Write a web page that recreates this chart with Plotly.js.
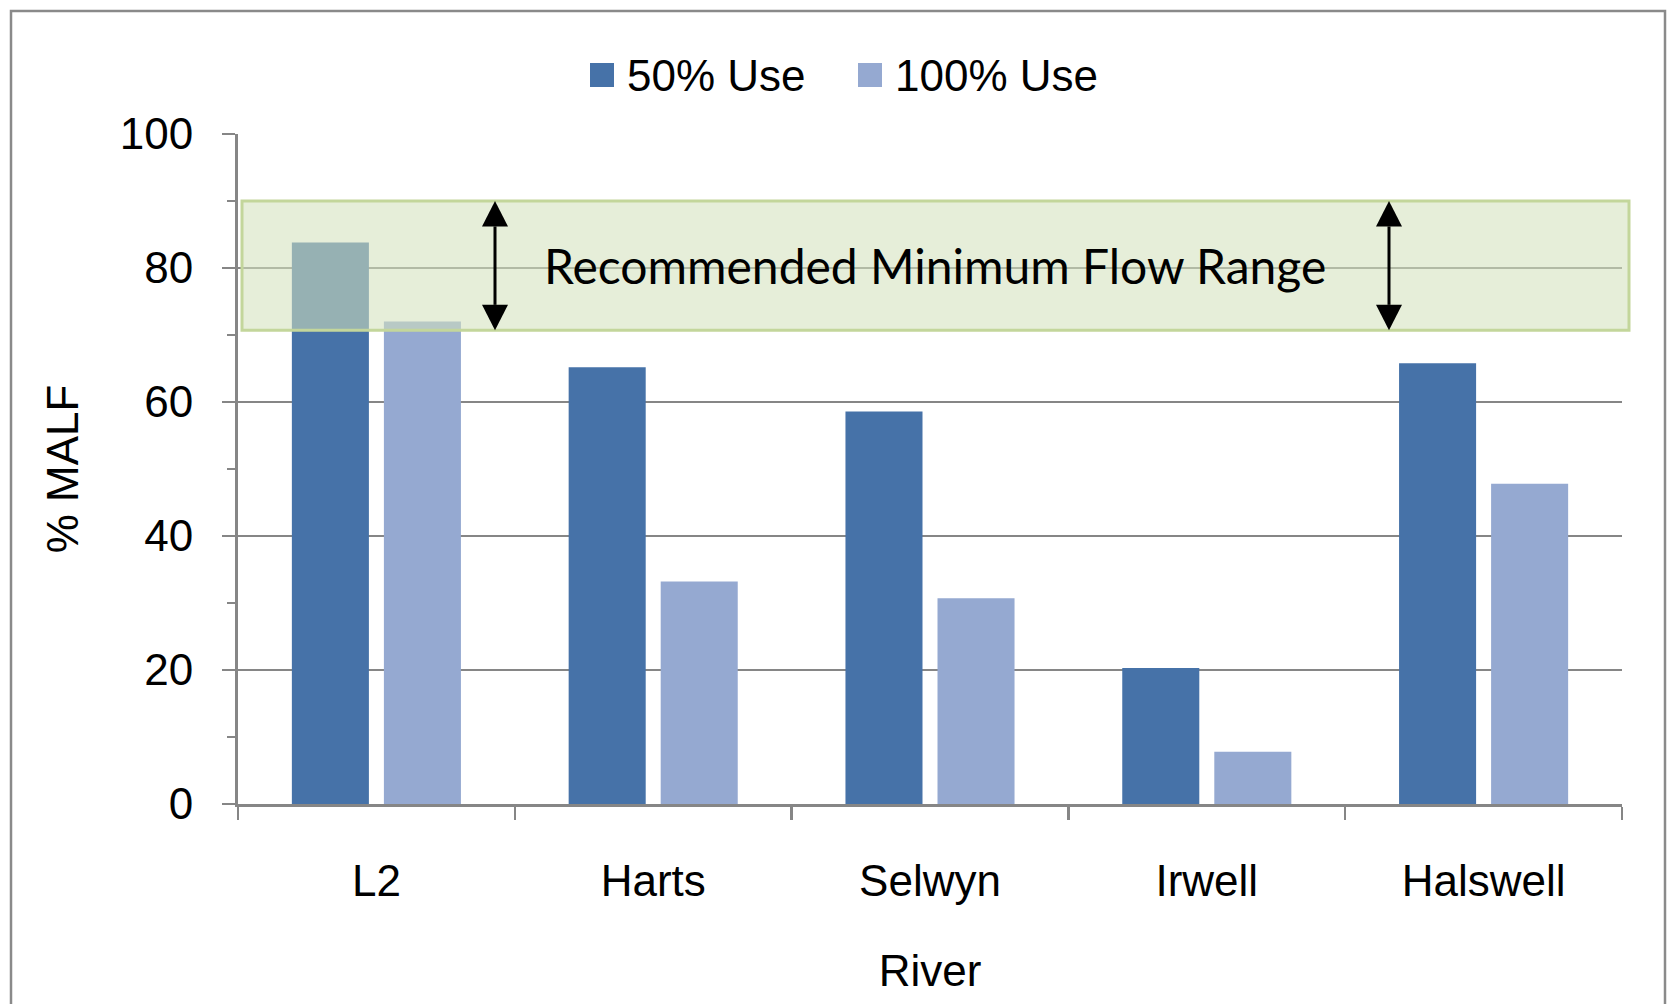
<!DOCTYPE html>
<html>
<head>
<meta charset="utf-8">
<script src="https://cdn.plot.ly/plotly-3.0.1.min.js"></script>
<style>
  html, body { margin: 0; padding: 0; background: #ffffff; }
  #chart { width: 1679px; height: 1004px; }
</style>
</head>
<body>
<div id="chart"></div>
<script>
// Rivers and modelled flow as % of MALF
const rivers = ["L2", "Harts", "Selwyn", "Irwell", "Halswell"];
const use50 = [83.8, 65.2, 58.6, 20.3, 65.8];
const use100 = [72.0, 33.2, 30.7, 7.8, 47.8];
const seriesNames = ["50% Use", "100% Use"];

// Recommended minimum flow band (% MALF)
const rangeLow = 70.7;
const rangeHigh = 90;
const rangeLabel = "Recommended Minimum Flow Range";

const yTicks = [0, 20, 40, 60, 80, 100];

// Layout geometry (pixels)
const W = 1679, H = 1004;
const M = { l: 238, r: 57, t: 134, b: 200 };
const plotW = W - M.l - M.r;
const plotH = H - M.t - M.b;
const px2x = px => (px - M.l) / plotW;
const px2y = py => (H - M.b - py) / plotH;

const darkBlue = "#4672A8";
const lightBlue = "#95A9D1";
const axisGrey = "#868686";
const font = "Arial, 'Liberation Sans', sans-serif";

const traces = [
  { type: "bar", x: rivers, y: use50, name: seriesNames[0],
    marker: { color: darkBlue }, showlegend: false },
  { type: "bar", x: rivers, y: use100, name: seriesNames[1],
    marker: { color: lightBlue }, showlegend: false }
];

// Double-headed arrows spanning the band
function arrowShapes(xp) {
  const headH = 3.8;            // head length in % MALF
  const headW = px2x(M.l + 13) - px2x(M.l); // half width in paper units
  return [
    { type: "line", xref: "paper", yref: "y", x0: xp, x1: xp,
      y0: rangeLow + headH, y1: rangeHigh - headH,
      line: { color: "#000", width: 3 }, layer: "above" },
    { type: "path", xref: "paper", yref: "y", layer: "above",
      path: `M${xp - headW},${rangeHigh - headH} L${xp},${rangeHigh} L${xp + headW},${rangeHigh - headH} Z`,
      fillcolor: "#000", line: { width: 0 } },
    { type: "path", xref: "paper", yref: "y", layer: "above",
      path: `M${xp - headW},${rangeLow + headH} L${xp},${rangeLow} L${xp + headW},${rangeLow + headH} Z`,
      fillcolor: "#000", line: { width: 0 } }
  ];
}

const shapes = [
  // outer chart frame
  { type: "rect", xref: "paper", yref: "paper",
    x0: px2x(11), x1: px2x(1665), y0: px2y(1012), y1: px2y(11),
    line: { color: "#8a8a8a", width: 2.5 }, fillcolor: "rgba(0,0,0,0)", layer: "below" },
  // recommended range band
  { type: "rect", xref: "paper", yref: "y",
    x0: px2x(242), x1: px2x(1629), y0: rangeLow, y1: rangeHigh,
    fillcolor: "rgba(211,225,188,0.57)", line: { color: "#C3D69B", width: 3 },
    layer: "above" },
  ...arrowShapes(px2x(495)),
  ...arrowShapes(px2x(1389)),
  // legend swatches
  { type: "rect", xref: "paper", yref: "paper",
    x0: px2x(590), x1: px2x(614), y0: px2y(87), y1: px2y(63),
    fillcolor: darkBlue, line: { width: 0 } },
  { type: "rect", xref: "paper", yref: "paper",
    x0: px2x(858), x1: px2x(882), y0: px2y(87), y1: px2y(63),
    fillcolor: lightBlue, line: { width: 0 } }
];

const annotations = [
  { xref: "paper", yref: "y", x: px2x(935), y: (rangeLow + rangeHigh) / 2,
    text: rangeLabel, showarrow: false, xanchor: "center", yanchor: "middle",
    font: { family: "Lato, 'Open Sans', sans-serif", size: 48, color: "#000" } },
  { xref: "paper", yref: "paper", x: px2x(625), y: px2y(75),
    text: seriesNames[0], showarrow: false, xanchor: "left", yanchor: "middle",
    font: { family: font, size: 44, color: "#000" } },
  { xref: "paper", yref: "paper", x: px2x(893), y: px2y(75),
    text: seriesNames[1], showarrow: false, xanchor: "left", yanchor: "middle",
    font: { family: font, size: 44, color: "#000" } }
];

const layout = {
  width: W, height: H,
  margin: M,
  paper_bgcolor: "#ffffff",
  plot_bgcolor: "#ffffff",
  font: { family: font, size: 44, color: "#000" },
  barmode: "group",
  bargap: 0.335,
  bargroupgap: 0.163,
  showlegend: false,
  xaxis: {
    type: "category",
    title: { text: "River", font: { family: font, size: 44 }, standoff: 52 },
    showline: true, linecolor: axisGrey, linewidth: 3,
    ticks: "outside", tickson: "boundaries", ticklen: 13, tickwidth: 2.5, tickcolor: axisGrey,
    ticklabelstandoff: 36,
    showgrid: false, zeroline: false,
    tickfont: { family: font, size: 44 }
  },
  yaxis: {
    range: [0, 100],
    tickvals: yTicks,
    title: { text: "% MALF", font: { family: font, size: 44 }, standoff: 28 },
    showline: true, linecolor: axisGrey, linewidth: 3,
    ticks: "outside", ticklen: 13, tickwidth: 2.5, tickcolor: axisGrey,
    minor: { dtick: 10, ticks: "outside", ticklen: 8, tickwidth: 2.5, tickcolor: axisGrey, showgrid: false },
    showgrid: true, gridcolor: axisGrey, gridwidth: 2.5,
    zeroline: false,
    ticklabelstandoff: 20,
    tickfont: { family: font, size: 44 }
  },
  shapes: shapes,
  annotations: annotations
};

Plotly.newPlot("chart", traces, layout, { displayModeBar: false, staticPlot: true });
</script>
</body>
</html>
